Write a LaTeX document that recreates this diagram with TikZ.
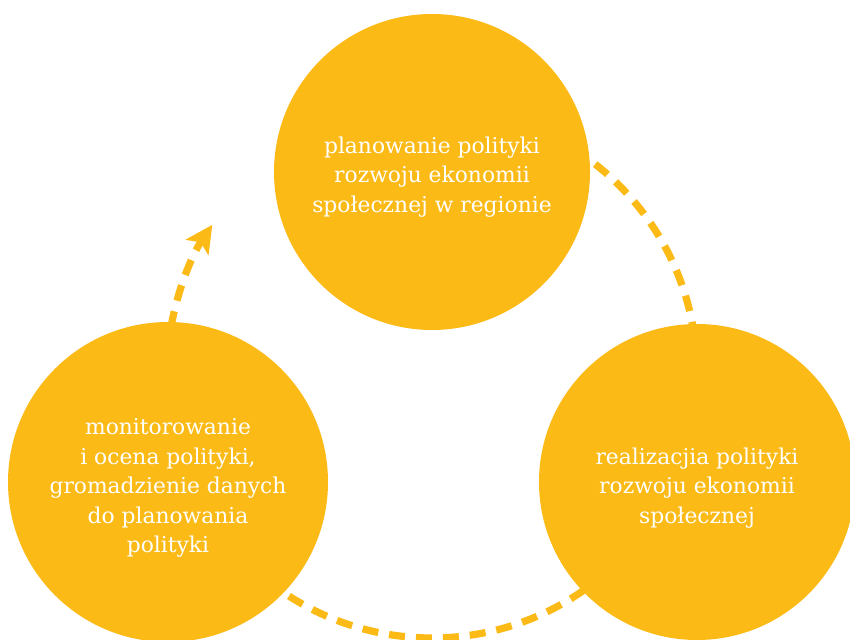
\documentclass[tikz,border=0pt]{standalone}
\usepackage{fontspec}
\setmainfont{DejaVu Serif}
\usetikzlibrary{arrows.meta}
\definecolor{gold}{RGB}{251,186,22}
\begin{document}
\begin{tikzpicture}[x=1pt,y=1pt,
  bubble/.style={circle, fill=gold, minimum size=316pt, inner sep=0pt},
  txt/.style={align=center, text=white, font=\fontsize{21.8}{29.5}\selectfont, inner sep=0pt},
  flow/.style={draw=gold, line width=7.2pt, dash pattern=on 16pt off 11pt}]
\useasboundingbox (0,0) rectangle (850,639);
\clip (0,0) rectangle (850,639);
\node[bubble] (plan) at (432,467) {};
\node[bubble, minimum size=320pt] (mon) at (168,157) {};
\node[bubble] (real) at (697,157) {};
\node[txt] (plantxt) at (432,462) {planowanie polityki\\rozwoju ekonomii\\społecznej w regionie};
\node[txt] (montxt) at (168,151) {monitorowanie\\i ocena polityki,\\gromadzienie danych\\do planowania\\polityki};
\node[txt] (realtxt) at (697,151) {realizacjia polityki\\rozwoju ekonomii\\społecznej};
\coordinate (O) at (432,266);
\coordinate (a1) at ([shift={(O)}]52:265pt);
\coordinate (b1) at ([shift={(O)}]-55:265pt);
\coordinate (c1) at ([shift={(O)}]170:265pt);
\draw[flow] (a1) arc[start angle=52, end angle=10, radius=265pt];
\draw[flow] (b1) arc[start angle=-55, end angle=-124, radius=265pt];
\draw[flow, -{Stealth[length=27pt, width=27pt, inset=6pt]}] (c1) arc[start angle=170, end angle=146, radius=265pt];
\end{tikzpicture}
\end{document}
